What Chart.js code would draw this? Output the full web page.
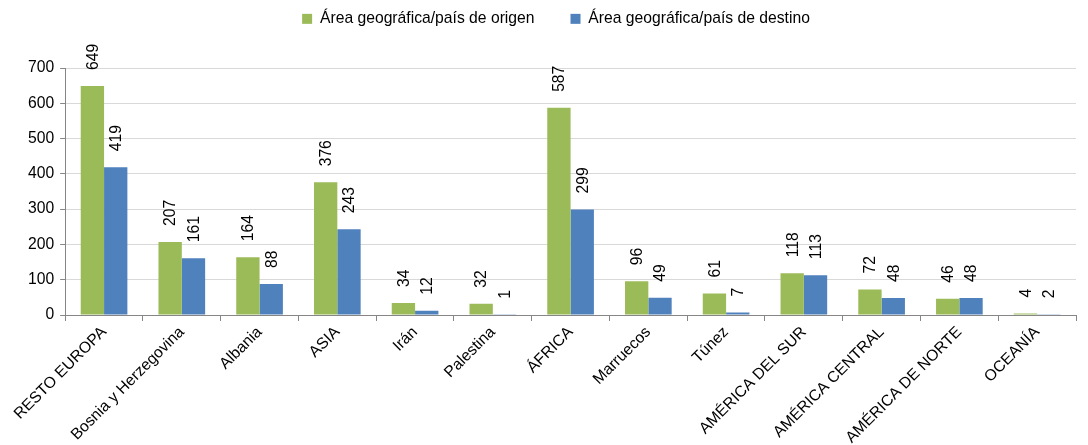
<!DOCTYPE html>
<html>
<head>
<meta charset="utf-8">
<script src="https://cdn.jsdelivr.net/npm/chart.js@4"></script>
<style>
  html, body { margin: 0; padding: 0; background: #fff; }
  #wrap { width: 1088px; height: 445px; }
</style>
</head>
<body>
<div id="wrap"><canvas id="chart"></canvas></div>
<script>
const categories = ['RESTO EUROPA', 'Bosnia y Herzegovina', 'Albania', 'ASIA', 'Irán', 'Palestina', 'ÁFRICA',
  'Marruecos', 'Túnez', 'AMÉRICA DEL SUR', 'AMÉRICA CENTRAL', 'AMÉRICA DE NORTE', 'OCEANÍA'];
const origen = [649, 207, 164, 376, 34, 32, 587, 96, 61, 118, 72, 46, 4];
const destino = [419, 161, 88, 243, 12, 1, 299, 49, 7, 113, 48, 48, 2];
const seriesNames = ['Área geográfica/país de origen', 'Área geográfica/país de destino'];

const fontFamily = '"Liberation Sans", Arial, sans-serif';
const fontSize = 15.7;

// rotated value labels above each bar
const valueLabels = {
  id: 'valueLabels',
  afterDatasetsDraw(chart) {
    const ctx = chart.ctx;
    ctx.save();
    ctx.font = fontSize + 'px ' + fontFamily;
    ctx.fillStyle = '#000';
    ctx.textAlign = 'left';
    ctx.textBaseline = 'middle';
    chart.data.datasets.forEach((ds, i) => {
      chart.getDatasetMeta(i).data.forEach((bar, j) => {
        ctx.save();
        ctx.translate(bar.x + 1, bar.y - 16);
        ctx.rotate(-Math.PI / 2);
        ctx.fillText(String(ds.data[j]), 0, 0);
        ctx.restore();
      });
    });
    ctx.restore();
  }
};

// legend block height fixed so the plot starts lower; legend drawn near the top
const legendGap = {
  id: 'legendGap',
  beforeInit(chart) {
    const legend = chart.legend;
    const fit = legend.fit;
    legend.fit = function () {
      fit.call(this);
      this.height = 68;
    };
    const draw = legend.draw;
    legend.draw = function () {
      this.ctx.save();
      this.ctx.translate(7, -25);
      draw.call(this);
      this.ctx.restore();
    };
  }
};

new Chart(document.getElementById('chart'), {
  type: 'bar',
  data: {
    labels: categories,
    datasets: [{
      label: seriesNames[0],
      data: origen,
      backgroundColor: '#9bbb59',
      categoryPercentage: 0.6,
      barPercentage: 1.0
    }, {
      label: seriesNames[1],
      data: destino,
      backgroundColor: '#4f81bd',
      categoryPercentage: 0.6,
      barPercentage: 1.0
    }]
  },
  options: {
    responsive: true,
    maintainAspectRatio: false,
    animation: false,
    layout: { padding: { top: 0, right: 12, left: 22, bottom: 0 } },
    plugins: {
      legend: {
        position: 'top',
        labels: {
          color: '#000',
          font: { size: fontSize, family: fontFamily },
          boxWidth: 10,
          boxHeight: 10,
          padding: 36
        }
      },
      tooltip: { enabled: false }
    },
    scales: {
      x: {
        afterFit(scale) { scale.height = 130; },
        ticks: {
          color: '#000',
          font: { size: fontSize, family: fontFamily },
          maxRotation: 45,
          minRotation: 45,
          autoSkip: false,
          padding: 2
        },
        grid: {
          drawOnChartArea: false,
          color: '#868686',
          tickLength: 6
        },
        border: { color: '#868686' }
      },
      y: {
        min: 0,
        max: 700,
        ticks: {
          stepSize: 100,
          color: '#000',
          font: { size: fontSize, family: fontFamily },
          padding: 6
        },
        grid: {
          color: '#d9d9d9',
          tickColor: '#868686',
          tickLength: 5
        },
        border: { color: '#868686' }
      }
    }
  },
  plugins: [valueLabels, legendGap]
});
</script>
</body>
</html>
